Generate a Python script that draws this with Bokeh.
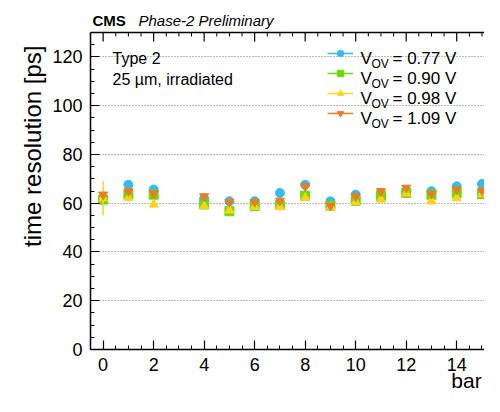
import math
from bokeh.plotting import figure
from bokeh.models import (Label, Legend, LegendItem, LinearAxis, Range1d, Span,
                          FixedTicker)
from bokeh.embed import file_html
from bokeh.resources import INLINE

# ---- data ----
bars_077 = [0, 1, 2, 4, 5, 6, 7, 8, 9, 10, 11, 12, 13, 14, 15]
res_077 = [61.5, 67.6, 65.6, 61.9, 60.8, 60.8, 64.2, 67.6, 60.8, 63.5, 64.2, 65.0, 64.9, 66.9, 67.9]
err_077 = [1.0, 1.0, 1.0, 1.0, 1.0, 1.0, 1.0, 1.0, 1.0, 1.0, 1.0, 1.0, 1.0, 1.0, 1.0]

bars_090 = [0, 1, 2, 4, 5, 6, 7, 8, 9, 10, 11, 12, 13, 14, 15]
res_090 = [61.5, 63.5, 63.5, 59.5, 56.7, 58.8, 59.2, 63.1, 59.0, 61.0, 63.0, 64.2, 63.5, 64.2, 63.7]
err_090 = [1.0, 1.0, 1.0, 1.0, 1.0, 1.0, 1.0, 1.0, 1.0, 1.0, 1.0, 1.0, 1.0, 1.0, 1.0]

bars_098 = [0, 1, 2, 4, 5, 6, 7, 8, 9, 10, 11, 12, 13, 14, 15]
res_098 = [62.0, 62.2, 59.5, 58.8, 57.0, 58.5, 58.5, 62.2, 58.5, 60.5, 61.5, 64.0, 60.8, 62.2, 63.7]
err_098 = [7.0, 1.5, 1.0, 1.0, 1.0, 1.0, 1.0, 1.0, 1.0, 1.0, 1.0, 1.0, 1.5, 1.5, 1.0]

bars_109 = [0, 1, 2, 4, 5, 6, 7, 8, 9, 10, 11, 12, 13, 14, 15]
res_109 = [63.5, 64.9, 64.0, 62.8, 60.5, 60.5, 61.0, 66.9, 59.0, 62.8, 64.9, 66.3, 63.9, 65.6, 65.2]
err_109 = [1.0, 1.0, 1.0, 1.0, 1.0, 1.0, 1.0, 1.0, 1.0, 1.0, 1.0, 1.0, 1.0, 1.0, 1.0]

series_labels = ["0.77", "0.90", "0.98", "1.09"]
series_colors = ["#35BCEE", "#6ADB0A", "#FFD21A", "#F07A24"]
series_markers = ["circle", "square", "triangle", "inverted_triangle"]

x_ticks = [0, 2, 4, 6, 8, 10, 12, 14]
y_ticks = [0, 20, 40, 60, 80, 100, 120]
y_top = 130

# ---- layout ----
W, H = 484, 396
LEFT, BOTTOM = 90, 47
FRAME_TOP_PX = 32          # where the y=130 frame edge sits
X0, X1 = -0.5, 15.1
FONT = "Liberation Sans"

frame_w = W - LEFT
frame_bottom = H - BOTTOM
pyu = (frame_bottom - FRAME_TOP_PX) / y_top
Y0, Y1 = 0, frame_bottom / pyu
pxu = frame_w / (X1 - X0)


def dx(px):
    return X0 + (px - LEFT) / pxu


def dy(py):
    return Y0 + (frame_bottom - py) / pyu


def sx(px):
    return px - LEFT


def sy(py):
    return frame_bottom - py


p = figure(width=W, height=H, output_backend="svg", toolbar_location=None,
           x_range=Range1d(X0, X1), y_range=Range1d(Y0, Y1),
           min_border_left=LEFT, min_border_right=0, min_border_top=0,
           min_border_bottom=BOTTOM)
p.outline_line_color = None
p.background_fill_color = "white"
p.border_fill_color = "white"

# grid
p.xgrid.visible = False
p.ygrid.ticker = y_ticks[1:]
p.ygrid.grid_line_color = "#777777"
p.ygrid.grid_line_dash = "1 2"
p.ygrid.grid_line_width = 1

x_minor = [i * 0.5 for i in range(-1, 31) if (i * 0.5) not in x_ticks]
y_minor = [v for v in range(5, y_top + 1, 5) if v not in y_ticks]

# axes
for ax in (p.xaxis[0], p.yaxis[0]):
    ax.axis_line_color = "black"
    ax.axis_line_width = 1.5
    ax.major_tick_line_color = "black"
    ax.minor_tick_line_color = "black"
    ax.major_tick_line_width = 1.2
    ax.major_tick_in = 9
    ax.major_tick_out = 0
    ax.minor_tick_in = 4
    ax.minor_tick_out = 0
    ax.major_label_text_font = FONT
    ax.major_label_text_font_size = "18px"
    ax.major_label_text_color = "black"

p.xaxis[0].ticker = FixedTicker(ticks=x_ticks, minor_ticks=x_minor)
p.yaxis[0].ticker = FixedTicker(ticks=y_ticks, minor_ticks=y_minor)
p.yaxis[0].bounds = (0, y_top)
p.xaxis.major_label_standoff = 8
p.yaxis.major_label_standoff = 8

# frame top edge and its ticks
p.add_layout(Span(location=y_top, dimension="width", line_color="black", line_width=1.5))
p.segment(x0=x_ticks, x1=x_ticks, y0=[y_top] * len(x_ticks),
          y1=[y_top - 9 / pyu] * len(x_ticks), line_color="black", line_width=1.2)
p.segment(x0=x_minor, x1=x_minor, y0=[y_top] * len(x_minor),
          y1=[y_top - 4 / pyu] * len(x_minor), line_color="black", line_width=1)

# y axis title (a lone tick label on an extra left axis; its end sits at the tick)
y_title_pos = round(dy(45), 3)
ytitle_axis = LinearAxis(ticker=FixedTicker(ticks=[y_title_pos], minor_ticks=[]),
                         major_label_overrides={y_title_pos: "time resolution [ps]"},
                         major_label_orientation=math.pi / 2,
                         major_label_text_font=FONT, major_label_text_font_size="24px",
                         major_label_text_color="black", major_label_standoff=17,
                         axis_line_color=None, major_tick_line_color=None,
                         minor_tick_line_color=None, major_tick_out=0, major_tick_in=0)
p.add_layout(ytitle_axis, "left")

# x axis title (a lone tick label on an extra bottom axis)
x_title_pos = round(dx(466), 3)
xtitle_axis = LinearAxis(ticker=FixedTicker(ticks=[x_title_pos], minor_ticks=[]),
                         major_label_overrides={x_title_pos: "bar"},
                         major_label_text_font=FONT, major_label_text_font_size="21px",
                         major_label_text_color="black", major_label_standoff=-5,
                         axis_line_color=None, major_tick_line_color=None,
                         minor_tick_line_color=None, major_tick_out=0, major_tick_in=0)
p.add_layout(xtitle_axis, "below")

# data
bars = [bars_077, bars_090, bars_098, bars_109]
vals = [res_077, res_090, res_098, res_109]
errs = [err_077, err_090, err_098, err_109]
items = []
for b, v, e, col, mk in zip(bars, vals, errs, series_colors, series_markers):
    lo = [a - c for a, c in zip(v, e)]
    hi = [a + c for a, c in zip(v, e)]
    seg = p.segment(x0=b, y0=lo, x1=b, y1=hi, line_color=col, line_width=1.5)
    sc = p.scatter(x=b, y=v, marker=mk, size=9, fill_color=col, line_color=col)
    items.append(LegendItem(label="", renderers=[seg, sc]))

leg = Legend(items=items, location=(sx(327), sy(123)), orientation="vertical",
             glyph_width=26, glyph_height=16, spacing=0, padding=0, margin=0,
             label_width=0, label_height=20, label_standoff=0,
             background_fill_alpha=0, border_line_alpha=0)
p.add_layout(leg, "center")

# legend texts
for i, lab in enumerate(series_labels):
    base = 58 + 20 * i
    p.add_layout(Label(x=dx(360), y=dy(base), text="V", text_font=FONT, text_color="black",
                       text_font_size="17px", text_baseline="alphabetic"))
    p.add_layout(Label(x=dx(371), y=dy(base + 5), text="OV", text_font=FONT, text_color="black",
                       text_font_size="12px", text_baseline="alphabetic"))
    p.add_layout(Label(x=dx(392), y=dy(base), text="= " + lab + " V", text_font=FONT,
                       text_color="black", text_font_size="17px", text_baseline="alphabetic"))

# header and inside texts
p.add_layout(Label(x=dx(92), y=dy(20), text="CMS", text_font=FONT, text_color="black",
                   text_font_style="bold", text_font_size="15px", text_baseline="alphabetic"))
p.add_layout(Label(x=dx(138), y=dy(20), text="Phase-2 Preliminary", text_font=FONT,
                   text_color="black", text_font_style="italic", text_font_size="15px",
                   text_baseline="alphabetic"))
p.add_layout(Label(x=dx(112), y=dy(58), text="Type 2", text_font=FONT, text_color="black",
                   text_font_size="16px", text_baseline="alphabetic"))
p.add_layout(Label(x=dx(112), y=dy(79), text="25 \u00b5m, irradiated", text_font=FONT,
                   text_color="black", text_font_size="16px", text_baseline="alphabetic"))

open("out.html", "w").write(file_html(p, INLINE))
